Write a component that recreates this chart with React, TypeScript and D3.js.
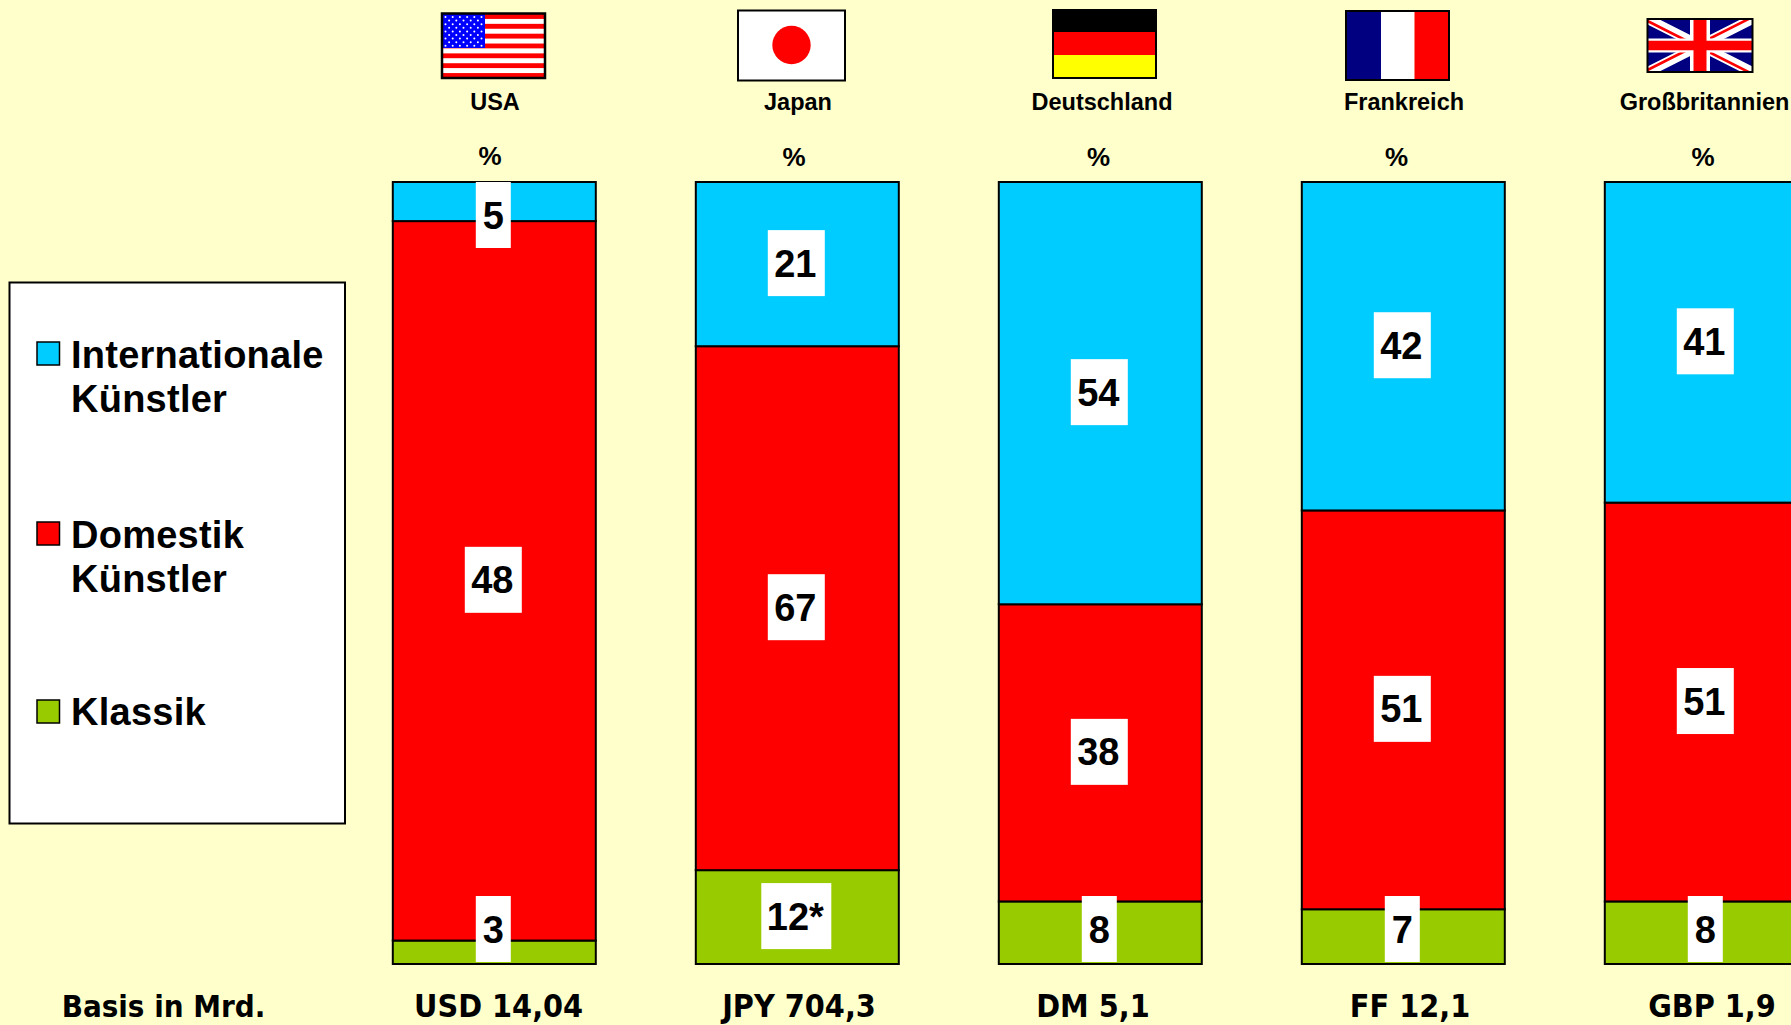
import React from "react";
import * as d3 from "d3";

const W = 1791;
const H = 1025;

const categories = ["USA", "Japan", "Deutschland", "Frankreich", "Großbritannien"];
const bases = ["USD 14,04", "JPY 704,3", "DM 5,1", "FF 12,1", "GBP 1,9"];
const international = [5, 21, 54, 42, 41];
const domestik = [92, 67, 38, 51, 51];
const klassik = [3, 12, 8, 7, 8];
const internationalLabels = ["5", "21", "54", "42", "41"];
const domestikLabels = ["48", "67", "38", "51", "51"];
const klassikLabels = ["3", "12*", "8", "7", "8"];

const COL = { intl: "#00CCFF", dom: "#FF0000", kl: "#99CC00" };
const ARIAL = "'Liberation Sans', Arial, sans-serif";

const rows = categories.map((c, i) => ({
  country: c,
  klassik: klassik[i],
  domestik: domestik[i],
  international: international[i],
}));
const keys = ["klassik", "domestik", "international"];
const stacked = d3.stack<any>().keys(keys)(rows);
const fills: Record<string, string> = { klassik: COL.kl, domestik: COL.dom, international: COL.intl };
const labelSets: Record<string, string[]> = {
  klassik: klassikLabels,
  domestik: domestikLabels,
  international: internationalLabels,
};

const x = d3.scaleBand<string>().domain(categories).range([392.8, 392.8 + 5 * 303 - 100]).paddingInner(100 / 303);
const y = d3.scaleLinear().domain([0, 100]).range([964, 182]);

function labelWidth(s: string) {
  return s.length === 1 ? 35 : s.length === 2 ? 57 : 70;
}

function FlagFrame({ x0, y0, w, h }: { x0: number; y0: number; w: number; h: number }) {
  return <rect x={x0} y={y0} width={w} height={h} fill="none" stroke="#000" strokeWidth={2} />;
}

function USFlag() {
  const x0 = 442, y0 = 14, w = 103, h = 64;
  const sh = h / 13;
  const stripes = d3.range(13);
  const cx = d3.range(11);
  const cy = d3.range(9);
  return (
    <g>
      {stripes.map((i) => (
        <rect key={i} x={x0} y={y0 + i * sh} width={w} height={sh + 0.3} fill={i % 2 ? "#fff" : "#f00"} />
      ))}
      <rect x={x0} y={y0} width={43} height={34} fill="#00f" />
      {cy.map((r) =>
        cx
          .filter((c) => c % 2 === r % 2)
          .map((c) => <circle key={`${r}-${c}`} cx={x0 + 3.5 + c * 3.6} cy={y0 + 3 + r * 3.6} r={1} fill="#fff" />)
      )}
      <rect x={x0} y={y0 - 0.5} width={w} height={h + 0.5} fill="none" stroke="#000" strokeWidth={2.5} />
    </g>
  );
}

function JapanFlag() {
  return (
    <g>
      <rect x={738} y={10.5} width={107} height={70} fill="#fff" stroke="#000" strokeWidth={2} />
      <ellipse cx={791.5} cy={45} rx={19.2} ry={19.2} fill="#f00" />
    </g>
  );
}

function GermanFlag() {
  const x0 = 1053, w = 103;
  return (
    <g>
      <rect x={x0} y={10} width={w} height={22} fill="#000" />
      <rect x={x0} y={32} width={w} height={23} fill="#f00" />
      <rect x={x0} y={55} width={w} height={23} fill="#ff0" />
      <FlagFrame x0={x0} y0={10} w={w} h={68} />
    </g>
  );
}

function FrenchFlag() {
  return (
    <g>
      <rect x={1346} y={11} width={35} height={69} fill="#000080" />
      <rect x={1381} y={11} width={33.5} height={69} fill="#fff" />
      <rect x={1414.5} y={11} width={34.5} height={69} fill="#f00" />
      <FlagFrame x0={1346} y0={11} w={103} h={69} />
    </g>
  );
}

function UKFlag() {
  const x0 = 1647.5, y0 = 19, w = 105, h = 53;
  const cxm = x0 + w / 2;
  const cym = y0 + h / 2;
  return (
    <g>
      <clipPath id="uk-clip">
        <rect x={x0} y={y0} width={w} height={h} />
      </clipPath>
      <g clipPath="url(#uk-clip)">
        <rect x={x0} y={y0} width={w} height={h} fill="#000080" />
        <path d={`M${x0},${y0}L${x0 + w},${y0 + h}M${x0 + w},${y0}L${x0},${y0 + h}`} stroke="#fff" strokeWidth={10} />
        <path d={`M${x0},${y0 + 2}L${x0 + w},${y0 + h + 2}M${x0 + w},${y0 - 2}L${x0},${y0 + h - 2}`} stroke="#f00" strokeWidth={2.6} />
        <path d={`M${cxm},${y0}V${y0 + h}`} stroke="#fff" strokeWidth={20} />
        <path d={`M${x0},${cym}H${x0 + w}`} stroke="#fff" strokeWidth={14} />
        <path d={`M${cxm},${y0}V${y0 + h}`} stroke="#f00" strokeWidth={13} />
        <path d={`M${x0},${cym}H${x0 + w}`} stroke="#f00" strokeWidth={9.5} />
      </g>
      <FlagFrame x0={x0} y0={y0} w={w} h={h} />
    </g>
  );
}

const countryLabelX = [495, 798, 1102, 1404, 1704.5];
const countryLabelY = [110, 110, 110, 110, 110];
const percentX = [490, 794, 1098.5, 1396.5, 1703];
const percentY = [164.5, 166, 166, 166, 166];
const baseX = [498.6, 799, 1093, 1410, 1712];

const legendItems = [
  { color: COL.intl, lines: ["Internationale", "Künstler"], box: 342, base: [367.5, 412] },
  { color: COL.dom, lines: ["Domestik", "Künstler"], box: 522, base: [548, 592] },
  { color: COL.kl, lines: ["Klassik"], box: 700, base: [725] },
];

const BASE_Y = 1017.4;

export default function App() {
  return (
    <svg
      width={W}
      height={H}
      viewBox={`0 0 ${W} ${H}`}
      style={{ position: "absolute", left: 0, top: 0, display: "block", background: "#FFFFCC" }}
    >
      <rect x={0} y={0} width={W} height={H} fill="#FFFFCC" />

      <USFlag />
      <JapanFlag />
      <GermanFlag />
      <FrenchFlag />
      <UKFlag />

      {categories.map((c, i) => (
        <text key={c} x={countryLabelX[i]} y={countryLabelY[i]} textAnchor="middle" fontFamily={ARIAL} fontWeight={700} fontSize={23.5} fill="#000">
          {c}
        </text>
      ))}
      {categories.map((c, i) => (
        <text key={c} x={percentX[i]} y={percentY[i]} textAnchor="middle" fontFamily={ARIAL} fontWeight={700} fontSize={26} fill="#000">
          %
        </text>
      ))}

      {stacked.map((s) =>
        s.map((d, i) => (
          <rect
            key={`${s.key}-${i}`}
            x={x(categories[i])!}
            y={y(d[1])}
            width={x.bandwidth()}
            height={y(d[0]) - y(d[1])}
            fill={fills[s.key]}
            stroke="#000"
            strokeWidth={2}
          />
        ))
      )}

      {stacked.map((s) =>
        s.map((d, i) => {
          const label = labelSets[s.key][i];
          const lw = labelWidth(label);
          const cx = x(categories[i])! + x.bandwidth() / 2 - 1;
          const mid = (y(d[0]) + y(d[1])) / 2;
          const cy = Math.max(y(100) + 33, Math.min(y(0) - 35, mid - 1));
          return (
            <g key={`${s.key}-l-${i}`}>
              <rect x={cx - lw / 2} y={cy - 33} width={lw} height={66} fill="#fff" />
              <text x={cx - (label.length > 1 ? 1 : 0)} y={cy + 13.5} textAnchor="middle" fontFamily={ARIAL} fontWeight={700} fontSize={38} fill="#000">
                {label}
              </text>
            </g>
          );
        })
      )}

      <rect x={9.5} y={282.5} width={335.5} height={541} fill="#fff" stroke="#000" strokeWidth={2} />
      {legendItems.map((it) => (
        <g key={it.lines[0]}>
          <rect x={37} y={it.box} width={22.5} height={23} fill={it.color} stroke="#000" strokeWidth={1.5} />
          {it.lines.map((l, j) => (
            <text key={j} x={71} y={it.base[j]} fontFamily={ARIAL} fontWeight={700} fontSize={38} letterSpacing={0.25} fill="#000">
              {l}
            </text>
          ))}
        </g>
      ))}

      <text x={163.5} y={BASE_Y} textAnchor="middle" fontFamily="'DejaVu Sans', sans-serif" fontStretch="condensed" fontWeight={700} fontSize={31} fill="#000">
        Basis in Mrd.
      </text>
      {bases.map((b, i) => (
        <text key={b} x={baseX[i]} y={BASE_Y} textAnchor="middle" fontFamily="'DejaVu Sans', sans-serif" fontStretch="condensed" fontWeight={700} fontSize={32} fill="#000">
          {b}
        </text>
      ))}
    </svg>
  );
}
